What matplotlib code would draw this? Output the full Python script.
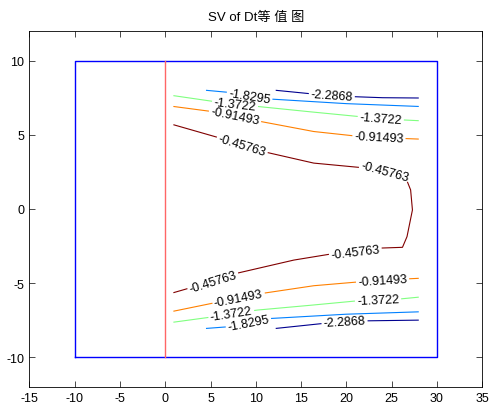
import numpy as np
import matplotlib
matplotlib.use("Agg")
import matplotlib.pyplot as plt
from matplotlib.contour import ContourSet

plt.rcParams['font.family'] = ['Liberation Sans', 'Noto Sans CJK SC', 'DejaVu Sans']
plt.rcParams['axes.unicode_minus'] = False

# contour levels and their labels
levels = [-2.2868, -1.8295, -1.3722, -0.91493, -0.45763]
level_labels = ['-2.2868', '-1.8295', '-1.3722', '-0.91493', '-0.45763']
level_colors = ['#00008f', '#0080ff', '#80ff80', '#ff8000', '#800000']

# lines (x, y)
blue_up_x = [12.2, 16.0, 18.4, 20.8, 24.0, 28.0]
blue_up_y = [8.0, 7.77, 7.65, 7.57, 7.5, 7.48]
blue_dn_x = [12.2, 17.5, 19.8, 21.9, 28.0]
blue_dn_y = [-8.06, -7.72, -7.62, -7.55, -7.5]

lblue_up_x = [4.5, 7.0, 9.3, 11.6, 20.0, 28.0]
lblue_up_y = [8.0, 7.86, 7.6, 7.41, 7.1, 6.91]
lblue_dn_x = [4.5, 6.9, 9.2, 11.6, 20.0, 28.0]
lblue_dn_y = [-8.06, -7.95, -7.7, -7.39, -7.1, -6.94]

green_up_x = [0.9, 5.3, 7.7, 10.2, 16.0, 21.2, 23.8, 26.3, 28.0]
green_up_y = [7.64, 7.25, 7.05, 6.91, 6.55, 6.24, 6.1, 6.0, 5.95]
green_dn_x = [0.9, 5.0, 7.3, 10.2, 16.0, 21.2, 23.5, 25.8, 28.0]
green_dn_y = [-7.64, -7.3, -7.05, -6.82, -6.5, -6.2, -6.13, -6.08, -5.95]

orange_up_x = [0.9, 5.0, 7.7, 10.5, 16.4, 20.8, 23.6, 26.3, 28.0]
orange_up_y = [6.91, 6.58, 6.25, 5.9, 5.22, 4.93, 4.82, 4.75, 4.71]
orange_dn_x = [0.9, 5.3, 8.1, 10.9, 16.4, 21.2, 24.0, 28.0]
orange_dn_y = [-6.9, -6.35, -6.0, -5.68, -5.18, -4.93, -4.8, -4.68]

red_x = [0.9, 5.7, 8.5, 11.3, 16.4, 21.6, 24.3, 26.5, 27.1, 27.3, 26.7, 26.2,
         23.8, 21.0, 18.3, 14.2, 7.9, 5.3, 2.6, 0.9]
red_y = [5.68, 4.84, 4.3, 3.8, 3.09, 2.79, 2.55, 2.2, 1.28, -0.07, -1.87, -2.59,
         -2.64, -2.9, -3.04, -3.45, -4.34, -4.95, -5.35, -5.65]

# where the labels sit
label_x = [18.4, 19.8, 9.3, 9.2, 7.7, 23.8, 7.3, 23.5, 7.7, 23.6, 8.1, 24.0, 8.5, 24.3, 21.0, 5.3]
label_y = [7.68, -7.62, 7.55, -7.72, 7.03, 6.08, -7.1, -6.13, 6.22, 4.8, -6.0, -4.8, 4.3, 2.57, -2.9, -4.95]

# domain box and the red divider
box_x = [-10, 30, 30, -10, -10]
box_y = [-10, -10, 10, 10, -10]
div_x = [0, 0]
div_y = [-10, 10]


def seg(xs, ys):
    return np.column_stack([xs, ys])


allsegs = [
    [seg(blue_up_x, blue_up_y), seg(blue_dn_x, blue_dn_y)],
    [seg(lblue_up_x, lblue_up_y), seg(lblue_dn_x, lblue_dn_y)],
    [seg(green_up_x, green_up_y), seg(green_dn_x, green_dn_y)],
    [seg(orange_up_x, orange_up_y), seg(orange_dn_x, orange_dn_y)],
    [seg(red_x, red_y)],
]

fig = plt.figure(figsize=(4.9, 4.1), dpi=100)
ax = fig.add_axes([0.060, 0.054, 0.924, 0.868])

ax.plot(box_x, box_y, color='#0000ff', linewidth=1.0)
ax.plot(div_x, div_y, color='#ff6666', linewidth=1.0)

ax.set_xlim(-15, 35)
ax.set_ylim(-12, 12)

cs = ContourSet(ax, levels, allsegs, colors=level_colors, linewidths=0.8)
fmt = dict(zip(levels, level_labels))
ax.clabel(cs, manual=list(zip(label_x, label_y)), inline=True, inline_spacing=2,
          fmt=fmt, fontsize=9, colors='k')

ax.set_xticks(np.arange(-15, 36, 5))
ax.set_yticks(np.arange(-10, 11, 5))
ax.tick_params(direction='in', top=True, right=True, labelsize=9, length=4, width=0.5)
for s in ax.spines.values():
    s.set_linewidth(0.6)

ax.set_title('SV of Dt等 值 图', fontsize=9.5, pad=8)

fig.savefig('out.png', dpi=100)
